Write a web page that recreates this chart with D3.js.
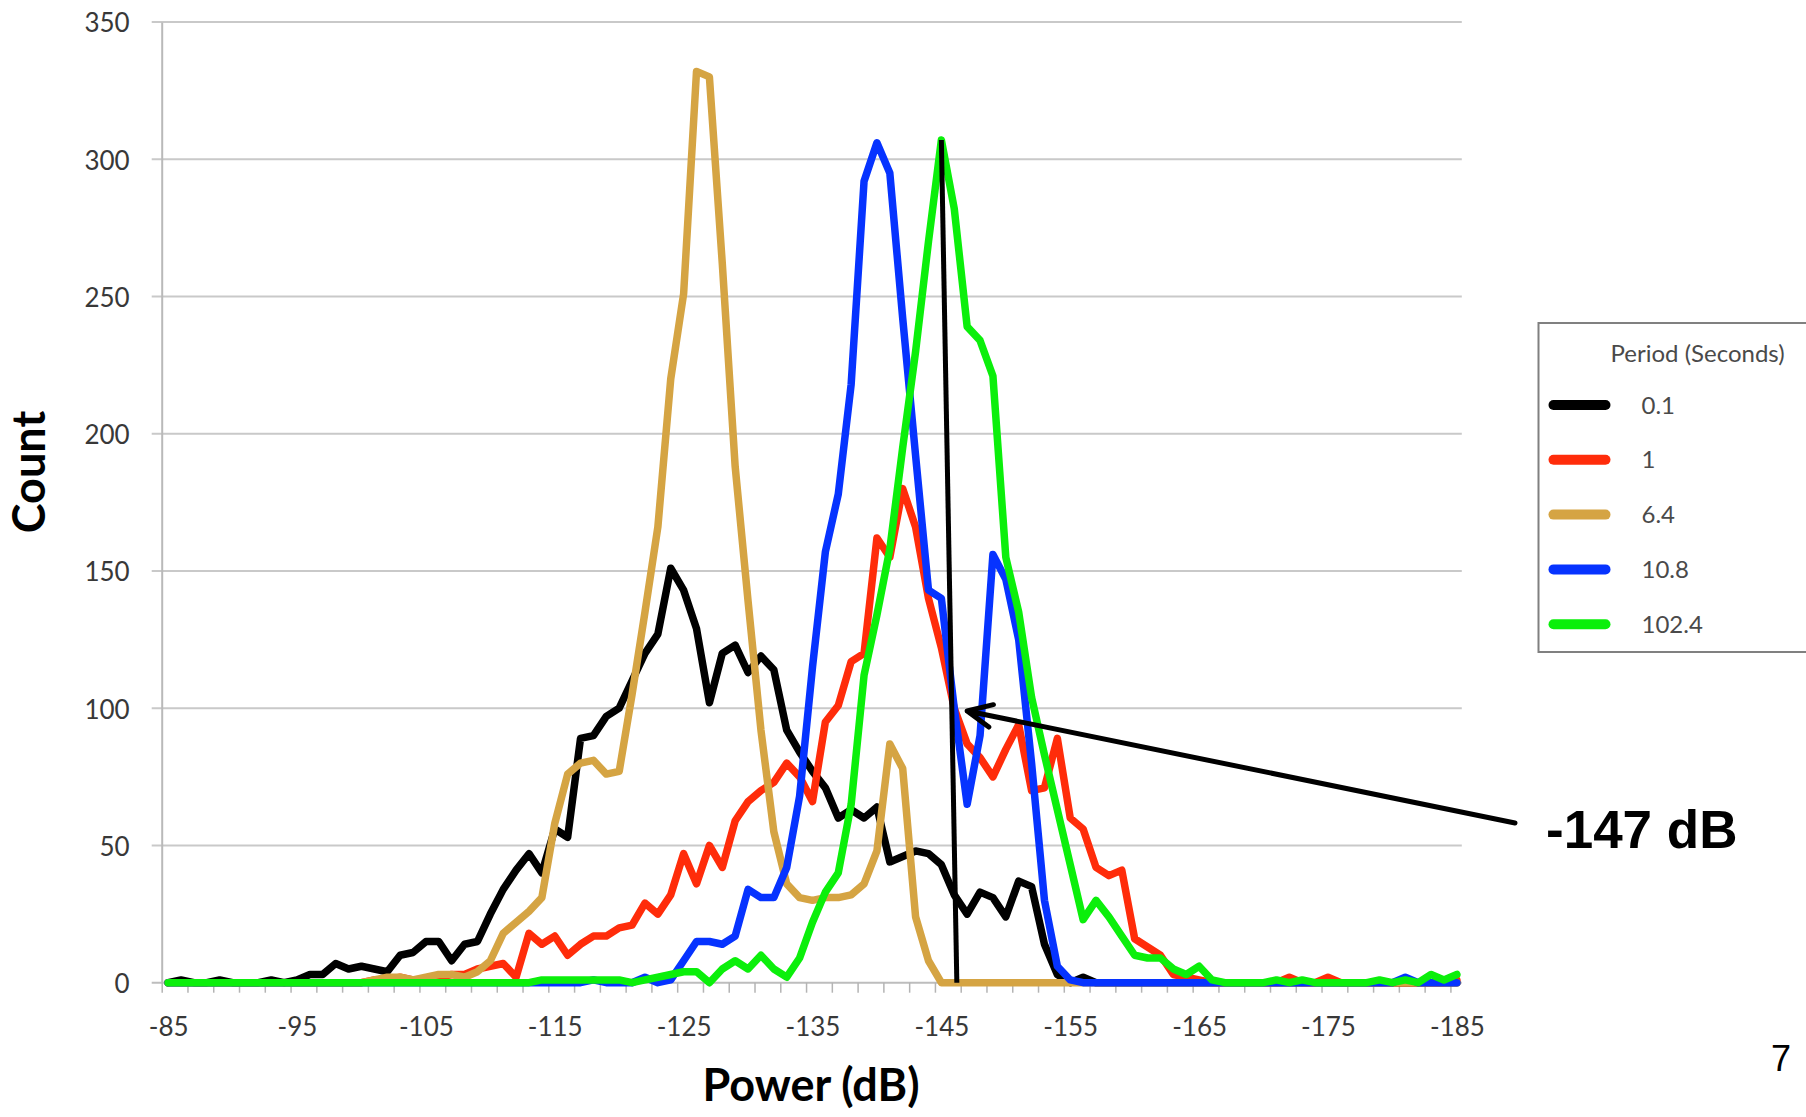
<!DOCTYPE html>
<html lang="en">
<head>
   <meta charset="utf-8">
   <title>Count by Power (dB)</title>
   <script src="https://cdn.jsdelivr.net/npm/d3@7/dist/d3.min.js"></script>
   <style type="text/css">
      body { margin: 0; background: #fff; }
      svg { display: block; }
      .tick-label { font-family: Lato, "Open Sans", sans-serif; font-size: 26px; fill: #383838; }
      .axis-title { font-family: Lato, "Open Sans", sans-serif; font-size: 45px; font-weight: bold; fill: #000; }
      .legend-text { font-family: Lato, "Open Sans", sans-serif; font-size: 24px; fill: #4a4a4a; }
   </style>
</head>
<body>
   <script type="text/javascript">

      // categories: power in dB, one per bin
      var power = [-85, -86, -87, -88, -89, -90, -91, -92, -93, -94,
         -95, -96, -97, -98, -99, -100, -101, -102, -103, -104,
         -105, -106, -107, -108, -109, -110, -111, -112, -113, -114,
         -115, -116, -117, -118, -119, -120, -121, -122, -123, -124,
         -125, -126, -127, -128, -129, -130, -131, -132, -133, -134,
         -135, -136, -137, -138, -139, -140, -141, -142, -143, -144,
         -145, -146, -147, -148, -149, -150, -151, -152, -153, -154,
         -155, -156, -157, -158, -159, -160, -161, -162, -163, -164,
         -165, -166, -167, -168, -169, -170, -171, -172, -173, -174,
         -175, -176, -177, -178, -179, -180, -181, -182, -183, -184,
         -185];

      // counts per period (seconds)
      var count_0_1 = [0, 1, 0, 0, 1, 0, 0, 0, 1, 0,
         1, 3, 3, 7, 5, 6, 5, 4, 10, 11,
         15, 15, 8, 14, 15, 25, 34, 41, 47, 40,
         56, 53, 89, 90, 97, 100, 110, 120, 127, 151,
         143, 129, 102, 120, 123, 113, 119, 114, 92, 84,
         77, 71, 60, 63, 60, 64, 44, 46, 48, 47,
         43, 32, 25, 33, 31, 24, 37, 35, 14, 3,
         0, 2, 0, 0, 0, 0, 0, 0, 0, 0,
         0, 0, 0, 0, 0, 0, 0, 0, 0, 0,
         0, 0, 0, 0, 0, 0, 0, 0, 0, 0,
         0];

      var count_1 = [0, 0, 0, 0, 0, 0, 0, 0, 0, 0,
         0, 0, 0, 0, 0, 0, 1, 1, 2, 1,
         1, 2, 3, 3, 5, 6, 7, 2, 18, 14,
         17, 10, 14, 17, 17, 20, 21, 29, 25, 32,
         47, 36, 50, 42, 59, 66, 70, 73, 80, 75,
         66, 95, 101, 117, 120, 162, 155, 180, 166, 140,
         122, 100, 87, 82, 75, 85, 94, 70, 71, 89,
         60, 56, 42, 39, 41, 16, 13, 10, 3, 2,
         1, 0, 0, 0, 0, 0, 0, 2, 0, 0,
         2, 0, 0, 0, 0, 0, 0, 0, 0, 0,
         1];

      var count_6_4 = [0, 0, 0, 0, 0, 0, 0, 0, 0, 0,
         0, 0, 0, 0, 0, 0, 1, 2, 2, 1,
         2, 3, 3, 2, 4, 8, 18, 22, 26, 31,
         58, 76, 80, 81, 76, 77, 105, 135, 166, 220,
         251, 332, 330, 262, 188, 139, 92, 55, 36, 31,
         30, 31, 31, 32, 36, 48, 87, 78, 24, 8,
         0, 0, 0, 0, 0, 0, 0, 0, 0, 0,
         0, 0, 0, 0, 0, 0, 0, 0, 0, 0,
         0, 0, 0, 0, 0, 0, 0, 0, 0, 0,
         0, 0, 0, 0, 0, 0, 0, 0, 0, 0,
         0];

      var count_10_8 = [0, 0, 0, 0, 0, 0, 0, 0, 0, 0,
         0, 0, 0, 0, 0, 0, 0, 0, 0, 0,
         0, 0, 0, 0, 0, 0, 0, 0, 0, 0,
         0, 0, 0, 1, 0, 0, 0, 2, 0, 1,
         8, 15, 15, 14, 17, 34, 31, 31, 42, 68,
         115, 157, 178, 218, 292, 306, 295, 242, 192, 143,
         140, 100, 65, 90, 156, 147, 125, 80, 30, 6,
         1, 0, 0, 0, 0, 0, 0, 0, 0, 0,
         0, 0, 0, 0, 0, 0, 0, 0, 0, 0,
         0, 0, 0, 0, 0, 0, 2, 0, 0, 0,
         0];

      var count_102_4 = [0, 0, 0, 0, 0, 0, 0, 0, 0, 0,
         0, 0, 0, 0, 0, 0, 0, 0, 0, 0,
         0, 0, 0, 0, 0, 0, 0, 0, 0, 1,
         1, 1, 1, 1, 1, 1, 0, 1, 2, 3,
         4, 4, 0, 5, 8, 5, 10, 5, 2, 9,
         22, 33, 40, 65, 112, 134, 158, 195, 230, 270,
         307, 282, 239, 234, 221, 155, 135, 104, 83, 63,
         43, 23, 30, 24, 17, 10, 9, 9, 5, 3,
         6, 1, 0, 0, 0, 0, 1, 0, 1, 0,
         0, 0, 0, 0, 1, 0, 1, 0, 3, 1,
         3];

      var seriesNames = ["0.1", "1", "6.4", "10.8", "102.4"];
      var seriesColors = ["#000000", "#ff2c0a", "#d5a443", "#0633ff", "#0bef0b"];
      var seriesValues = [count_0_1, count_1, count_6_4, count_10_8, count_102_4];

      var xLabels = [-85, -95, -105, -115, -125, -135, -145, -155, -165, -175, -185];
      var yTicks = [0, 50, 100, 150, 200, 250, 300, 350];

      // annotation: marker line through the green peak, arrow at -147 dB
      var markerTop = { power: -145, count: 307 };
      var markerBottom = { power: -146.2, count: 0 };
      var arrowTip = { power: -147, count: 99 };

      var w = 1806;
      var h = 1117;
      var plot = { left: 161.7, right: 1463.3, top: 22, bottom: 982.7 };

      var svg = d3.select("body")
                  .append("svg")
                  .attr("width", w)
                  .attr("height", h);

      svg.append("rect")
         .attr("width", w)
         .attr("height", h)
         .attr("fill", "#fff");

      // each bin is one category wide, labels sit in the middle of a bin
      var xScale = d3.scaleLinear()
                     .domain([power[0] + 0.5, power[power.length - 1] - 0.5])
                     .range([plot.left, plot.right]);

      var yScale = d3.scaleLinear()
                     .domain([0, 350])
                     .range([plot.bottom, plot.top]);

      // gridlines
      svg.append("g")
         .selectAll("line")
         .data(yTicks.slice(1))
         .enter()
         .append("line")
         .attr("x1", plot.left - 10)
         .attr("x2", plot.right - 1.5)
         .attr("y1", function(d) { return yScale(d); })
         .attr("y2", function(d) { return yScale(d); })
         .attr("stroke", "#c9c9c9")
         .attr("stroke-width", 2);

      // x axis: ticks on bin edges every 2 dB
      var tickEdges = power.filter(function(d, i) { return i % 2 === 0; })
                           .map(function(d) { return d + 0.5; });

      var xTickAxis = d3.axisBottom(xScale)
                        .tickValues(tickEdges)
                        .tickSize(10)
                        .tickFormat("");

      var gx = svg.append("g")
                  .attr("transform", "translate(0," + plot.bottom + ")")
                  .call(xTickAxis);
      gx.select(".domain")
        .attr("stroke", "#bdbdbd")
        .attr("stroke-width", 2)
        .attr("d", "M" + (plot.left - 10) + ",0H" + (plot.right - 1.5));
      gx.selectAll(".tick line")
        .attr("stroke", "#b4b4b4")
        .attr("stroke-width", 1.5);

      var xLabelAxis = d3.axisBottom(xScale)
                         .tickValues(xLabels)
                         .tickSize(0)
                         .tickPadding(0)
                         .tickFormat(function(d) { return d; });

      var gxl = svg.append("g")
                   .attr("transform", "translate(0,1036)")
                   .call(xLabelAxis);
      gxl.select(".domain").remove();
      gxl.selectAll("text")
         .attr("class", "tick-label")
         .attr("y", 0)
         .attr("dy", 0)
         .attr("fill", null);

      // y axis
      var yAxis = d3.axisLeft(yScale)
                    .tickValues(yTicks)
                    .tickSize(0)
                    .tickPadding(32);

      var gy = svg.append("g")
                  .attr("transform", "translate(" + plot.left + ",0)")
                  .call(yAxis);
      gy.select(".domain")
        .attr("stroke", "#b9b9b9")
        .attr("stroke-width", 2);
      gy.selectAll("text")
        .attr("class", "tick-label")
        .attr("dy", "0.38em")
        .attr("fill", null);

      // series lines
      var line = d3.line()
                   .x(function(d, i) { return xScale(power[i]); })
                   .y(function(d) { return yScale(d); });

      svg.append("g")
         .selectAll("path")
         .data(seriesValues)
         .enter()
         .append("path")
         .attr("d", function(d) { return line(d); })
         .attr("fill", "none")
         .attr("stroke", function(d, i) { return seriesColors[i]; })
         .attr("stroke-width", 7.5)
         .attr("stroke-linejoin", "round")
         .attr("stroke-linecap", "round");

      // axis titles
      svg.append("text")
         .attr("class", "axis-title")
         .attr("transform", "translate(45,472) rotate(-90)")
         .attr("text-anchor", "middle")
         .text("Count");

      svg.append("text")
         .attr("class", "axis-title")
         .attr("x", 811)
         .attr("y", 1101)
         .attr("text-anchor", "middle")
         .text("Power (dB)");

      // legend
      var legend = svg.append("g")
                      .attr("transform", "translate(1538.5,323)");

      legend.append("rect")
            .attr("width", 300)
            .attr("height", 329)
            .attr("fill", "#fff")
            .attr("stroke", "#808080")
            .attr("stroke-width", 2);

      legend.append("text")
            .attr("class", "legend-text")
            .attr("x", 72)
            .attr("y", 39)
            .attr("font-size", "25px")
            .text("Period (Seconds)");

      var item = legend.selectAll(".item")
                       .data(seriesNames)
                       .enter()
                       .append("g")
                       .attr("class", "item")
                       .attr("transform", function(d, i) { return "translate(0," + (82 + i * 54.8) + ")"; });

      item.append("line")
          .attr("x1", 15)
          .attr("x2", 67)
          .attr("stroke", function(d, i) { return seriesColors[i]; })
          .attr("stroke-width", 10)
          .attr("stroke-linecap", "round");

      item.append("text")
          .attr("class", "legend-text")
          .attr("x", 103)
          .attr("dy", "0.36em")
          .text(function(d) { return d; });

      // annotation line and arrow
      svg.append("line")
         .attr("x1", xScale(markerTop.power))
         .attr("y1", yScale(markerTop.count))
         .attr("x2", xScale(markerBottom.power))
         .attr("y2", yScale(markerBottom.count))
         .attr("stroke", "#000")
         .attr("stroke-width", 5);

      var labelX = 1546;
      var labelY = 848;
      var tipX = xScale(arrowTip.power);
      var tipY = yScale(arrowTip.count);
      var tailX = labelX - 31;
      var tailY = labelY - 25;
      var ang = Math.atan2(tailY - tipY, tailX - tipX);
      var barb = 27;
      var spread = 25 * Math.PI / 180;

      svg.append("path")
         .attr("d", "M" + tailX + "," + tailY + "L" + tipX + "," + tipY +
            "M" + (tipX + barb * Math.cos(ang - spread)) + "," + (tipY + barb * Math.sin(ang - spread)) +
            "L" + tipX + "," + tipY +
            "L" + (tipX + barb * Math.cos(ang + spread)) + "," + (tipY + barb * Math.sin(ang + spread)))
         .attr("fill", "none")
         .attr("stroke", "#000")
         .attr("stroke-width", 5)
         .attr("stroke-linecap", "round")
         .attr("stroke-linejoin", "round");

      svg.append("text")
         .attr("x", labelX)
         .attr("y", labelY)
         .attr("font-family", "'Liberation Sans', Arial, sans-serif")
         .attr("font-weight", "bold")
         .attr("font-size", "53px")
         .text("-147 dB");

      // slide number
      svg.append("text")
         .attr("x", 1791)
         .attr("y", 1071)
         .attr("text-anchor", "end")
         .attr("font-family", "'Liberation Sans', Arial, sans-serif")
         .attr("font-size", "36px")
         .text("7");

   </script>
</body>
</html>
